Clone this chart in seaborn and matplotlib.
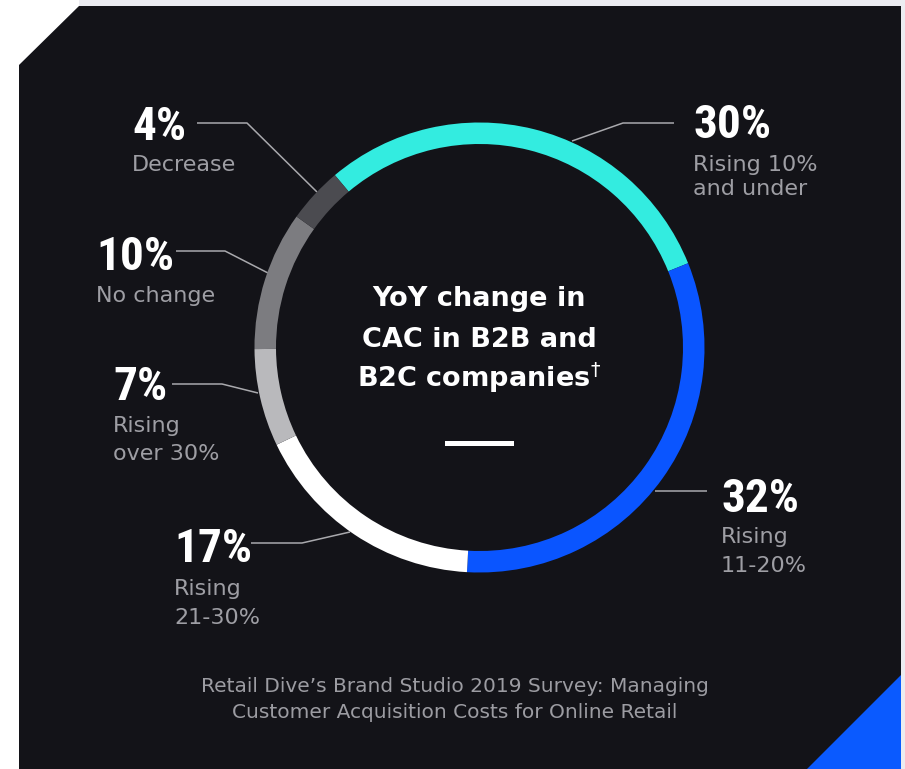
import matplotlib
matplotlib.use("Agg")
import matplotlib.pyplot as plt
import seaborn as sns
from matplotlib.patches import Polygon, Rectangle

# data (clockwise from the top-left)
shares = [30, 32, 17, 7, 10, 4]
descriptions = ["Rising 10%\nand under", "Rising\n11-20%", "Rising\n21-30%",
                "Rising\nover 30%", "No change", "Decrease"]
ring_colors = ["#33ECE0", "#0A55FF", "#FFFFFF", "#B9B9BC", "#7C7C80", "#4B4B50"]

title_lines = ["YoY change in", "CAC in B2B and", r"B2C companies$^{\dagger}$"]
source = ["Retail Dive\u2019s Brand Studio 2019 Survey: Managing",
          "Customer Acquisition Costs for Online Retail"]

# label layout in pixels: x, baseline of pct, baseline of first desc line, line gap, leader
layout = [
    (693, 138, 171, 24, [(674, 123), (623, 123), (572, 141)]),
    (721, 512, 543, 29, [(707, 491), (655, 491)]),
    (174, 562, 595, 29, [(251, 543), (302, 543), (350, 532)]),
    (113, 400, 432, 28, [(172, 384), (222, 384), (258, 393)]),
    (96, 270, 302, 28, [(176, 251), (225, 251), (268, 273)]),
    (132, 140, 171, 28, [(197, 123), (247, 123), (317, 192)]),
]

W, H = 905, 769
sns.set_theme(style="dark")
plt.rcParams["font.family"] = ["DejaVu Sans"]

bg = "#131318"
fig = plt.figure(figsize=(W / 100, H / 100), dpi=100)
fig.patch.set_facecolor("white")
ax = fig.add_axes([0, 0, 1, 1])
ax.set_xlim(0, W)
ax.set_ylim(H, 0)
ax.axis("off")

# panel with a cut corner, light strips and the blue corner triangle
ax.add_patch(Rectangle((79, 0), W - 79, 6, color="#ECECF1", lw=0))
ax.add_patch(Rectangle((901, 0), 4, H, color="#ECECF1", lw=0))
ax.add_patch(Polygon([(19, 65), (79, 6), (901, 6), (901, H), (19, H)], closed=True,
                     color=bg, lw=0))
ax.add_patch(Polygon([(807, H), (901, 675), (901, H)], closed=True, color="#0A5AFF", lw=0))

# donut in its own axes
cx, cy, r = 479.5, 347.5, 225
half = r * 1.25
pax = fig.add_axes([(cx - half) / W, (H - cy - half) / H, 2 * half / W, 2 * half / H])
pax.pie(shares, colors=sns.color_palette(ring_colors), startangle=130, counterclock=False,
        radius=1, wedgeprops=dict(width=21.5 / r, linewidth=0, antialiased=True))
pax.set_xlim(-1.25, 1.25)
pax.set_ylim(-1.25, 1.25)
pax.set_aspect("equal")
pax.axis("off")
pax.patch.set_alpha(0)

pct_font = dict(family=["Liberation Sans Narrow", "Roboto Condensed", "DejaVu Sans"],
                fontstretch="condensed", fontweight="bold", fontsize=34, color="white")
line_color = "#A9A9AD"
desc_color = "#9E9EA4"

for v, desc, (x, pb, db, gap, pts) in zip(shares, descriptions, layout):
    ax.text(x, pb, f"{v}%", ha="left", va="baseline", **pct_font)
    for i, line in enumerate(desc.split("\n")):
        ax.text(x, db + i * gap, line, ha="left", va="baseline",
                fontsize=16, color=desc_color)
    xs, ys = zip(*pts)
    ax.plot(xs, ys, color=line_color, lw=1.1, solid_capstyle="butt")

for line, yb in zip(title_lines, [306, 347, 387]):
    ax.text(479, yb, line, ha="center", va="baseline", fontsize=19.5,
            fontweight="bold", color="white")
ax.add_patch(Rectangle((445, 441), 69, 5, color="white", lw=0))

for line, yb in zip(source, [692, 718]):
    ax.text(455, yb, line, ha="center", va="baseline", fontsize=14.5, color="#9C9CA2")

fig.savefig("out.png", dpi=100, facecolor=fig.get_facecolor())
